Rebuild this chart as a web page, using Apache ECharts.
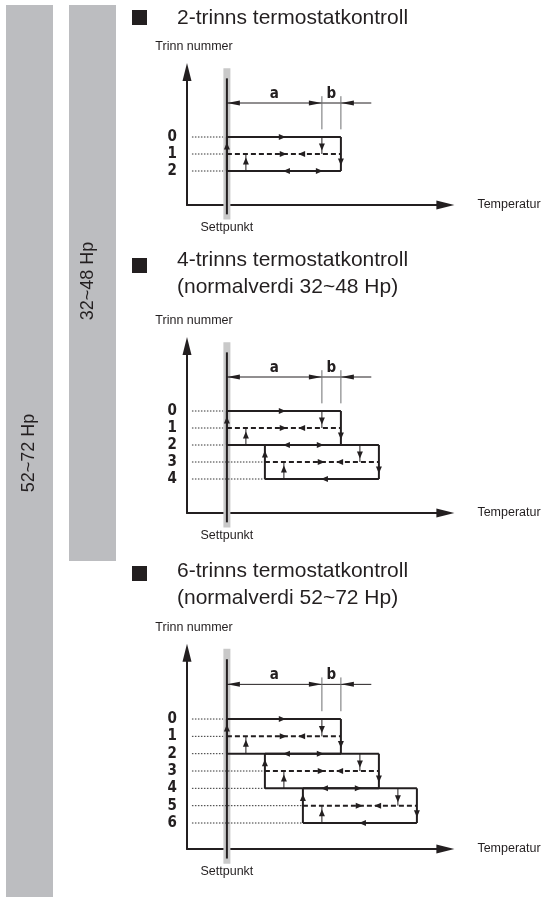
<!DOCTYPE html>
<html>
<head>
<meta charset="utf-8">
<script src="https://cdn.jsdelivr.net/npm/echarts@6/dist/echarts.min.js"></script>
<style>
html, body { margin: 0; padding: 0; background: #fff; }
#main { width: 544px; height: 898px; }
</style>
</head>
<body>
<div id="main"></div>
<script>
// data
var titles = [
    '2-trinns termostatkontroll',
    '4-trinns termostatkontroll\n(normalverdi 32~48 Hp)',
    '6-trinns termostatkontroll\n(normalverdi 52~72 Hp)'
];
var rangeLabels = ['32~48 Hp', '52~72 Hp'];
var stepNumbers = [[0, 1, 2], [0, 1, 2, 3, 4], [0, 1, 2, 3, 4, 5, 6]];
var bandStarts = [[0], [0, 2], [0, 2, 4]];   // temperature offset of every 2-step band from the set point
var diffA = 5;
var diffB = 1;
var bottomRightArrow = [true, false, false];
var yName = 'Trinn nummer';
var xName = 'Temperatur';
var setName = 'Settpunkt';
var textList = ['a', 'b', setName];

var INK = '#231f20';
var FONT = '"Liberation Sans", Arial, Helvetica, sans-serif';
var NARROW = '"Liberation Sans Narrow", "DejaVu Sans Condensed", "Liberation Sans", sans-serif';
var ARROW = 'path://M5 0 L10 20 L0 20 Z';

// layout of the three panels (pixels)
var panels = [
    { top: 69, height: 136, yMax: 4, titleTop: 4.5, bulletTop: 10 },
    { top: 343, height: 170, yMax: 6, titleTop: 246.5, bulletTop: 258 },
    { top: 649.7, height: 199.3, yMax: 7.5, titleTop: 557.5, bulletTop: 566 }
];

var segStyles = [
    { color: '#c9c9c9', width: 7 },          // set point band
    { color: INK, width: 2 },                // solid
    { color: INK, width: 2, dash: [5, 3] },  // dashed
    { color: '#333', width: 1, dash: [1.5, 1.5] }, // dotted guide
    { color: INK, width: 1 },                // thin
    { color: '#6d6e70', width: 1 }           // dimension tick
];

//function
function buildPanel(p) {
    var levels = stepNumbers[p];
    var starts = bandStarts[p];
    var yMax = panels[p].yMax;
    var segs = [], heads = [], texts = [];

    segs.push([0, -4.05, 0, yMax + 0.85, 0]);
    segs.push([0, -3.45, 0, yMax + 0.55, 1]);

    levels.forEach(function (lv) {
        var k = lv <= 2 ? 0 : Math.ceil(lv / 2) - 1;
        segs.push([-1.84, lv, k === 0 ? -0.2 : starts[k], lv, 3]);
    });

    // a / b dimension
    segs.push([0, -2, 7.6, -2, 4]);
    segs.push([diffA, -2.4, diffA, -0.45, 5]);
    segs.push([diffA + diffB, -2.4, diffA + diffB, -0.45, 5]);
    heads.push([0, -2, 1, 1]);
    heads.push([diffA, -2, 0, 1]);
    heads.push([diffA + diffB, -2, 1, 1]);
    texts.push([diffA / 2, -2.55, 0]);
    texts.push([diffA + diffB / 2, -2.55, 1]);
    texts.push([0, yMax, 2]);

    starts.forEach(function (L, k) {
        var top = 2 * k, mid = top + 1, bot = top + 2, R = L + diffA + diffB;
        segs.push([L, top, R, top, 1]);
        segs.push([R, top, R, bot, 1]);
        segs.push([L, bot, R, bot, 1]);
        segs.push([L, bot, L, top, 1]);
        segs.push([L, mid, R, mid, 2]);
        segs.push([L + diffA, top, L + diffA, mid, 4]);
        segs.push([L + diffB, bot, L + diffB, mid, 4]);
        // dir: 0 right, 1 left, 2 up, 3 down
        heads.push([L + 3.1, top, 0, 0]);
        heads.push([L + 3.15, mid, 0, 0]);
        heads.push([L + 3.75, mid, 1, 0]);
        heads.push([L + 2.95, bot, 1, 0]);
        heads.push([R, bot - 0.33, 3, 0]);
        heads.push([L, top + 0.32, 2, 0]);
        heads.push([L + diffA, mid - 0.2, 3, 0]);
        heads.push([L + diffB, mid + 0.2, 2, 0]);
        if (bottomRightArrow[p] && k === starts.length - 1) {
            heads.push([L + 5.05, bot, 0, 0]);
        }
    });
    return { segs: segs, heads: heads, texts: texts };
}

function renderSeg(params, api) {
    var a = api.coord([api.value(0), api.value(1)]);
    var b = api.coord([api.value(2), api.value(3)]);
    var st = segStyles[api.value(4)];
    return {
        type: 'line',
        shape: { x1: a[0], y1: a[1], x2: b[0], y2: b[1] },
        style: { stroke: st.color, lineWidth: st.width, lineDash: st.dash || null }
    };
}

function renderHead(params, api) {
    var t = api.coord([api.value(0), api.value(1)]);
    var dir = api.value(2);
    var big = api.value(3) === 1;
    var len = big ? 13 : 7, w = big ? 2.5 : 3;
    var x = t[0], y = t[1], pts;
    if (dir === 0) pts = [[x, y], [x - len, y - w], [x - len, y + w]];
    else if (dir === 1) pts = [[x, y], [x + len, y - w], [x + len, y + w]];
    else if (dir === 2) pts = [[x, y], [x - w, y + len], [x + w, y + len]];
    else pts = [[x, y], [x - w, y - len], [x + w, y - len]];
    return { type: 'polygon', shape: { points: pts }, style: { fill: INK }, z2: 10 };
}

function renderText(params, api) {
    var pt = api.coord([api.value(0), api.value(1)]);
    var idx = api.value(2);
    var isSet = idx === 2;
    return {
        type: 'text',
        x: pt[0],
        y: pt[1] + (isSet ? 23 : 0),
        style: {
            text: textList[idx],
            fill: INK,
            align: 'center',
            verticalAlign: 'middle',
            font: isSet ? '12.5px ' + FONT : 'bold 15px ' + NARROW
        }
    };
}

//options
var grids = [], xAxes = [], yAxes = [], series = [], titleList = [], graphics = [];

graphics.push({ type: 'rect', shape: { x: 6, y: 5, width: 47, height: 892 }, style: { fill: '#bcbdc0' } });
graphics.push({ type: 'rect', shape: { x: 69, y: 5, width: 47, height: 556 }, style: { fill: '#bcbdc0' } });
graphics.push({
    type: 'text', x: 88, y: 281, rotation: Math.PI / 2,
    style: { text: rangeLabels[0], fill: INK, font: '18px ' + FONT, align: 'center', verticalAlign: 'middle' }
});
graphics.push({
    type: 'text', x: 29, y: 453, rotation: Math.PI / 2,
    style: { text: rangeLabels[1], fill: INK, font: '18px ' + FONT, align: 'center', verticalAlign: 'middle' }
});

panels.forEach(function (pl, p) {
    var d = buildPanel(p);
    var last = stepNumbers[p][stepNumbers[p].length - 1];

    grids.push({ left: 187, top: pl.top, width: 258.4, height: pl.height, outerBoundsMode: 'none' });
    titleList.push({
        text: titles[p], left: 177, top: pl.titleTop, padding: 0,
        textStyle: { fontFamily: FONT, fontSize: 21, fontWeight: 'normal', color: INK, lineHeight: 27 }
    });
    graphics.push({ type: 'rect', shape: { x: 132, y: pl.bulletTop, width: 15, height: 15 }, style: { fill: INK } });

    xAxes.push({
        gridIndex: p, type: 'value', min: -2.1, max: 11.5,
        axisLine: { onZero: false, lineStyle: { color: INK, width: 2 }, symbol: ['none', ARROW], symbolSize: [9, 18] },
        axisTick: { show: false }, axisLabel: { show: false }, splitLine: { show: false },
        name: xName, nameLocation: 'end', nameGap: 32,
        nameTextStyle: { fontFamily: FONT, fontSize: 12.5, color: INK, align: 'left', verticalAlign: 'middle' }
    });
    yAxes.push({
        gridIndex: p, type: 'value', inverse: true, min: -4, max: pl.yMax, interval: 1,
        axisLine: { onZero: false, lineStyle: { color: INK, width: 2 }, symbol: ['none', ARROW], symbolSize: [9, 18], symbolOffset: [0, -3] },
        axisTick: { show: false }, splitLine: { show: false },
        axisLabel: {
            margin: 10, color: INK, fontFamily: NARROW, fontWeight: 'bold', fontSize: 15,
            formatter: function (v) { return (v >= 0 && v <= last && v === Math.round(v)) ? String(v) : ''; }
        },
        name: yName, nameLocation: 'start', nameGap: 16,
        nameTextStyle: { fontFamily: FONT, fontSize: 12.5, color: INK, padding: [0, 0, 0, 14] }
    });

    series.push({ type: 'custom', xAxisIndex: p, yAxisIndex: p, renderItem: renderSeg, data: d.segs, silent: true, animation: false });
    series.push({ type: 'custom', xAxisIndex: p, yAxisIndex: p, renderItem: renderHead, data: d.heads, silent: true, animation: false, z: 3 });
    series.push({ type: 'custom', xAxisIndex: p, yAxisIndex: p, renderItem: renderText, data: d.texts, silent: true, animation: false, z: 4 });
});

var chart = echarts.init(document.getElementById('main'));
chart.setOption({
    animation: false,
    backgroundColor: '#fff',
    title: titleList,
    grid: grids,
    xAxis: xAxes,
    yAxis: yAxes,
    graphic: graphics,
    series: series
});
</script>
</body>
</html>
